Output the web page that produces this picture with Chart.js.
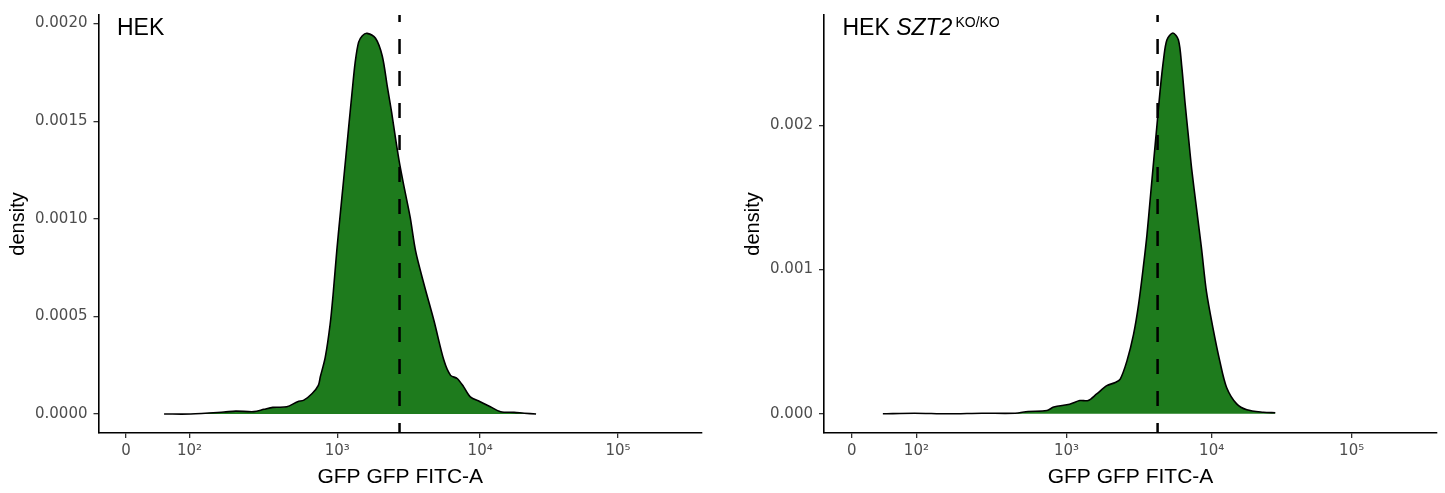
<!DOCTYPE html>
<html>
<head>
<meta charset="utf-8">
<title>GFP density</title>
<script src="https://cdn.jsdelivr.net/npm/chart.js@4.4.1/dist/chart.umd.min.js"></script>
<style>
    body { margin: 0; background: #fff; }
    #wrap { position: relative; width: 1445px; height: 493px; }
    canvas { position: absolute; top: 0; }
    #hekChart { left: 0; }
    #koChart { left: 724px; }
</style>
</head>
<body>
<div id="wrap">
    <canvas id="hekChart" width="720" height="493"></canvas>
    <canvas id="koChart" width="721" height="493"></canvas>
</div>
<script>
// GFP intensity (FITC-A) and density
const hekGfp = [60, 102, 170, 204, 270, 316, 363, 451, 535, 590, 672, 741, 764, 826, 893, 940, 991,
    1044, 1102, 1194, 1262, 1330, 1403, 1489, 1607, 1837, 2046, 2218, 2377, 2535, 2705, 2931, 3206,
    3500, 4006, 4710, 5534, 6166, 6870, 7640, 8510, 10000, 11830, 14000, 17500, 20700, 25200];
const hekDensity = [0, 0, 0.00001, 0.000015, 0.000012, 0.000024, 0.000034, 0.000037, 0.000063, 0.000071,
    0.000105, 0.000147, 0.00019, 0.00029, 0.000461, 0.00063, 0.000834, 0.001012, 0.00119, 0.001459,
    0.001643, 0.001805, 0.001905, 0.001938, 0.00195, 0.001925, 0.001834, 0.001678, 0.001546, 0.001409,
    0.001281, 0.001149, 0.001007, 0.000834, 0.000665, 0.000478, 0.000275, 0.000198, 0.000182, 0.000139,
    0.000088, 0.000063, 0.000037, 0.000012, 0.0000086, 0.000004, 0];

const koGfp = [48, 97, 161, 270, 450, 550, 736, 819, 1049, 1230, 1403, 1603, 1879, 2145, 2322, 2582,
    2866, 3103, 3360, 3545, 3736, 3938, 4155, 4379, 4616, 4871, 5360, 5860, 6180, 6515, 6870, 7250,
    7840, 8490, 9190, 10210, 11400, 12740, 15000, 17700, 23200, 28200];
const koDensity = [0, 0.000004, 0, 0.000004, 0.000004, 0.000016, 0.000023, 0.000047, 0.000067, 0.000092,
    0.000092, 0.000138, 0.000195, 0.000217, 0.000241, 0.000367, 0.000551, 0.000757, 0.001032, 0.001239,
    0.001491, 0.001743, 0.001996, 0.002248, 0.002454, 0.002592, 0.00264, 0.002592, 0.002409, 0.002156,
    0.001927, 0.001697, 0.001422, 0.001147, 0.000849, 0.000596, 0.000367, 0.000183, 0.000069, 0.000028,
    0.000011, 0.000007];

// dashed cut-off lines
const hekCutoff = 2700;
const koCutoff = 4200;

// axis ticks
const xTickValues = [0, 100, 1000, 10000, 100000];
const xTickLabels = ['0', '10²', '10³', '10⁴', '10⁵'];
const hekYTicks = [0, 0.0005, 0.001, 0.0015, 0.002];
const hekYLabels = ['0.0000', '0.0005', '0.0010', '0.0015', '0.0020'];
const koYTicks = [0, 0.001, 0.002];
const koYLabels = ['0.000', '0.001', '0.002'];

const GREEN = '#1e7b1d';
const TICK_FONT = { family: 'DejaVu Sans', size: 15 };

// biexponential-like display scale: linear below 100, (slightly compressed) log above
function toAxis(v) {
    if (v < 100) return v * 0.00444;
    const d = Math.log10(v) - 2;
    return 0.444 + 1.051 * d - 0.0175 * d * d;
}

// panel title drawn in the top-left corner of the plot area
const panelTitle = {
    id: 'panelTitle',
    afterDraw(chart, args, opts) {
        const ctx = chart.ctx;
        let x = chart.chartArea.left + 18.5;
        const y = 35;
        ctx.save();
        ctx.fillStyle = '#000';
        ctx.textBaseline = 'alphabetic';
        opts.parts.forEach(p => {
            ctx.font = p.font;
            ctx.fillText(p.text, x, y - (p.rise || 0));
            x += ctx.measureText(p.text).width + (p.gap || 0);
        });
        ctx.restore();
    }
};

function makePanel(id, gfp, density, cutoff, yMin, yMax, yTicks, yLabels, opts) {
    const curve = gfp.map((g, i) => ({ x: toAxis(g), y: density[i] }));
    const ctx = document.getElementById(id).getContext('2d');
    return new Chart(ctx, {
        type: 'line',
        data: {
            datasets: [{
                data: [{ x: toAxis(cutoff), y: yMax }, { x: toAxis(cutoff), y: yMin }],
                borderColor: '#000',
                borderWidth: 2.5,
                borderDash: [15, 17],
                borderDashOffset: 8,
                pointRadius: 0,
                fill: false
            }, {
                data: curve,
                borderColor: '#000',
                borderWidth: 1.6,
                backgroundColor: GREEN,
                fill: { value: 0 },
                pointRadius: 0,
                tension: 0.3
            }]
        },
        plugins: [panelTitle],
        options: {
            responsive: false,
            animation: false,
            layout: { padding: { left: 0, top: 12, right: opts.padRight, bottom: 0 } },
            plugins: {
                legend: { display: false },
                tooltip: { enabled: false },
                panelTitle: { parts: opts.title }
            },
            scales: {
                x: {
                    type: 'linear',
                    min: -0.192,
                    max: 4.027,
                    afterBuildTicks: scale => {
                        scale.ticks = xTickValues.map(v => ({ value: toAxis(v) }));
                    },
                    afterFit: scale => { scale.height = 60; },
                    ticks: {
                        autoSkip: false,
                        maxRotation: 0,
                        padding: 4,
                        color: '#4d4d4d',
                        font: TICK_FONT,
                        callback: (val, i) => xTickLabels[i]
                    },
                    grid: { drawOnChartArea: false, drawTicks: true, tickLength: 5, color: '#333', lineWidth: 1.3 },
                    border: { display: true, color: '#000', width: 1.6 },
                    title: {
                        display: true,
                        text: 'GFP GFP FITC-A',
                        color: '#000',
                        font: { family: 'Liberation Sans', size: 21 },
                        padding: { top: 0, bottom: 3 }
                    }
                },
                y: {
                    type: 'linear',
                    min: yMin,
                    max: yMax,
                    afterBuildTicks: scale => {
                        scale.ticks = yTicks.map(v => ({ value: v }));
                    },
                    afterFit: scale => { scale.width = opts.yWidth; },
                    ticks: {
                        padding: 6,
                        color: '#4d4d4d',
                        font: TICK_FONT,
                        callback: (val, i) => yLabels[i]
                    },
                    grid: { drawOnChartArea: false, drawTicks: true, tickLength: 5, color: '#333', lineWidth: 1.3 },
                    border: { display: true, color: '#000', width: 1.6 },
                    title: {
                        display: true,
                        text: 'density',
                        color: '#000',
                        font: { family: 'Liberation Sans', size: 20 },
                        padding: { top: opts.titlePad, bottom: 0 }
                    }
                }
            }
        }
    });
}

makePanel('hekChart', hekGfp, hekDensity, hekCutoff, -0.0000973, 0.002044, hekYTicks, hekYLabels, {
    padRight: 18,
    yWidth: 98.5,
    titlePad: 6,
    title: [{ text: 'HEK', font: '23px "Liberation Sans"' }]
});

makePanel('koChart', koGfp, koDensity, koCutoff, -0.000133, 0.002765, koYTicks, koYLabels, {
    padRight: 8,
    yWidth: 100,
    titlePad: 17,
    title: [
        { text: 'HEK ', font: '23px "Liberation Sans"' },
        { text: 'SZT2', font: 'italic 23px "Liberation Sans"', gap: 3 },
        { text: 'KO/KO', font: '14px "Liberation Sans"', rise: 8 }
    ]
});
</script>
</body>
</html>
